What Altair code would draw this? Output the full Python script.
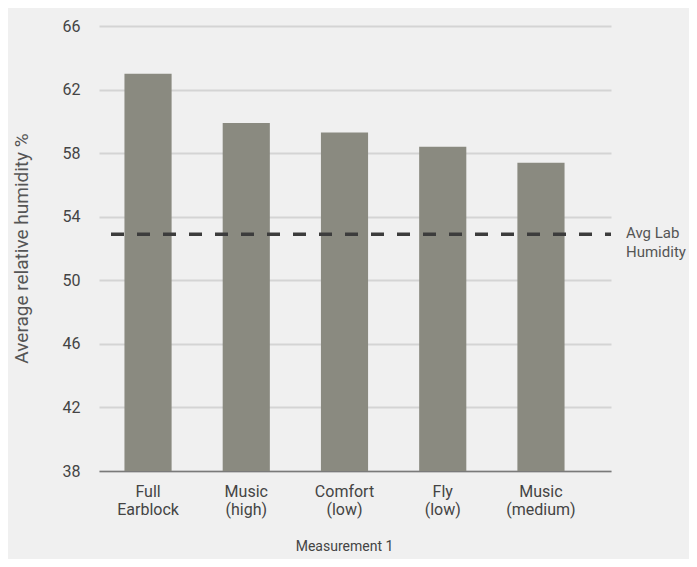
import altair as alt
import pandas as pd

categories = ["Full Earblock", "Music (high)", "Comfort (low)", "Fly (low)", "Music (medium)"]
humidity = [63.0, 59.9, 59.3, 58.4, 57.4]
avg_lab = [52.9]
avg_label = ["Avg Lab", "Humidity"]
y_floor = 38

df = pd.DataFrame({"cat": categories, "val": humidity, "base": [y_floor] * len(categories)})
ref = pd.DataFrame({"val": avg_lab, "label": [avg_label]})

FONT = "Roboto"

x = alt.X("cat:N", sort=categories, title="Measurement 1",
          scale=alt.Scale(paddingInner=0.52, paddingOuter=0.366, align=0.354),
          axis=alt.Axis(labelExpr="split(datum.value, ' ')", labelAngle=0,
                        labelFontSize=16, labelColor="#444", labelFont=FONT,
                        labelPadding=12, labelLineHeight=18, ticks=False,
                        domainColor="#7a7a7a", domainWidth=1.5,
                        titleFontSize=14, titleFontWeight="normal", titleColor="#444",
                        titleFont=FONT, titleY=68, titleX=245, titleBaseline="top"))

y = alt.Y("val:Q", title="Average relative humidity %",
          scale=alt.Scale(domain=[38, 66], nice=False, zero=False),
          axis=alt.Axis(values=[38, 42, 46, 50, 54, 58, 62, 66], domain=False, ticks=False,
                        labelFontSize=16, labelColor="#444", labelFont=FONT, labelPadding=19,
                        gridColor="#d4d4d4", gridWidth=2,
                        titleFontSize=19, titleFontWeight="normal", titleColor="#555",
                        titleFont=FONT, titleAngle=-90, titleX=-78, titleY=222,
                        titleBaseline="middle", titleAlign="center"))

bars = alt.Chart(df).mark_bar(color="#8a8a80").encode(x=x, y=y, y2="base:Q")

rule = alt.Chart(ref).mark_rule(color="#3c3c3c", strokeWidth=3.5, strokeDash=[13, 13],
                                strokeDashOffset=7).encode(y=alt.Y("val:Q"))

text = alt.Chart(ref).mark_text(align="left", baseline="middle", fontSize=15, color="#555",
                                font=FONT, lineHeight=19, dy=-1).encode(
    x=alt.value(527), y=alt.Y("val:Q"), text="label")

chart = alt.layer(bars, rule, text).properties(
    width=512, height=445, background="#f0f0f0",
    autosize=alt.AutoSizeParams(type="none"),
    padding={"left": 91, "top": 18, "right": 78, "bottom": 88}
).configure_view(stroke=None).configure_axis(gridCap="butt")

chart.save("out.html", embed_options={"renderer": "svg", "actions": False})
